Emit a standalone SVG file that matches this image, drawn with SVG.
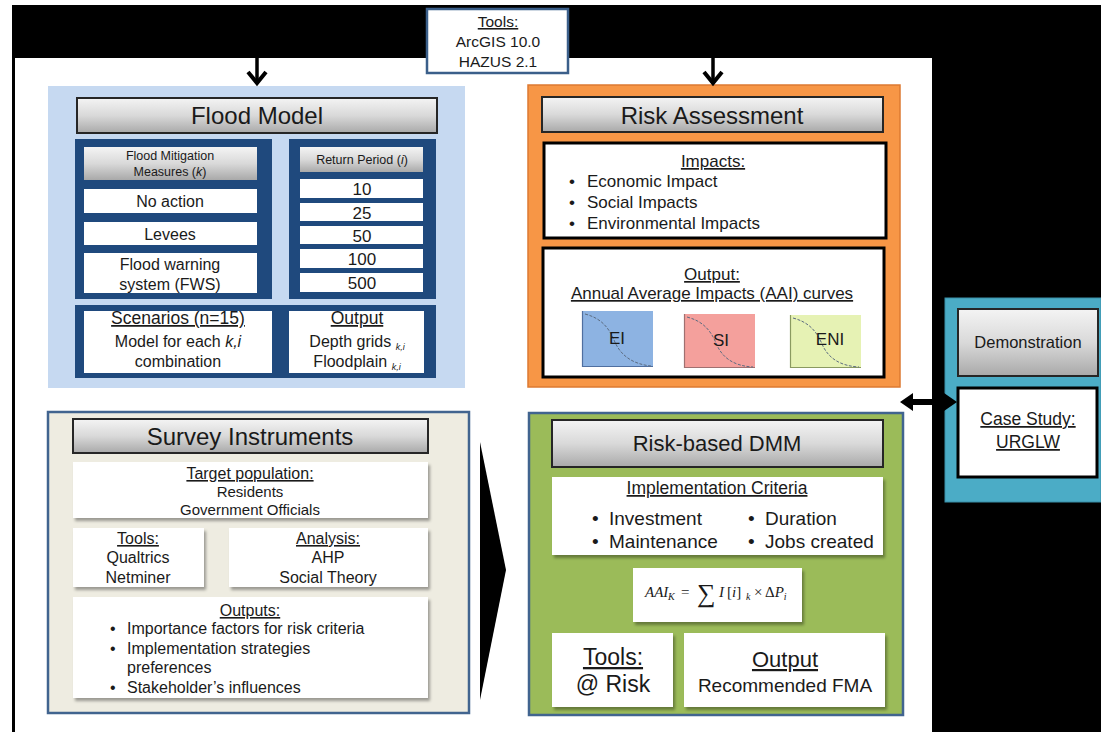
<svg xmlns="http://www.w3.org/2000/svg" width="1101" height="732" viewBox="0 0 1101 732">
<defs>
<linearGradient id="gbar" x1="0" y1="0" x2="0" y2="1">
<stop offset="0" stop-color="#f4f4f4"/>
<stop offset="0.5" stop-color="#d9d9d9"/>
<stop offset="1" stop-color="#a9a9a9"/>
</linearGradient>
<filter id="sh" x="-10%" y="-10%" width="125%" height="130%">
<feDropShadow dx="2" dy="3" stdDeviation="1.5" flood-color="#000" flood-opacity="0.35"/>
</filter>
<style>
text{font-family:"Liberation Sans",Arial,sans-serif;fill:#1a1a1a}
.m{text-anchor:middle}
.u{text-decoration:underline}
.bar{fill:url(#gbar);stroke:#262626;stroke-width:2}
.hdr{fill:url(#gbar);stroke:none}
.wb{fill:#fff}
.dk{fill:#1f497d}
.thk{fill:#fff;stroke:#000;stroke-width:3}
.sw{fill:#fff;filter:url(#sh)}
.curve{fill:none;stroke:#5b6b80;stroke-width:1;stroke-dasharray:3 1.5}
.sub{font-size:9px;font-style:italic}
.ser{font-family:"Liberation Serif","Times New Roman",serif;font-style:italic;font-size:15px}
</style>
</defs>
<rect x="0" y="0" width="1101" height="732" fill="#fff"/>
<rect x="12" y="5" width="1089" height="727" fill="#000"/>
<rect x="15" y="58" width="917" height="674" fill="#fff"/>

<g id="tools-top">
<rect x="427" y="9" width="141" height="64" fill="#fff" stroke="#3b5f8a" stroke-width="2.5"/>
<text x="498" y="27" class="m u" font-size="15.5">Tools:</text>
<text x="498" y="47" class="m" font-size="15.5">ArcGIS 10.0</text>
<text x="498" y="67" class="m" font-size="15.5">HAZUS 2.1</text>
</g>

<g id="flood-model">
<rect x="48" y="86" width="417" height="302" fill="#c6d9f1"/>
<rect x="77" y="98" width="360" height="35" class="bar"/>
<text x="257" y="124" class="m" font-size="24">Flood Model</text>
<rect x="75" y="139" width="197" height="160" class="dk"/>
<rect x="84" y="147" width="173" height="33" class="hdr"/>
<text x="170" y="160" class="m" font-size="12.5">Flood Mitigation</text>
<text x="170" y="176" class="m" font-size="12.5">Measures (<tspan font-style="italic">k</tspan>)</text>
<rect x="84" y="189" width="173" height="24" class="wb"/>
<text x="170" y="207" class="m" font-size="16">No action</text>
<rect x="84" y="222" width="173" height="23" class="wb"/>
<text x="170" y="240" class="m" font-size="16">Levees</text>
<rect x="84" y="253" width="173" height="40" class="wb"/>
<text x="170" y="270" class="m" font-size="16">Flood warning</text>
<text x="170" y="290" class="m" font-size="16">system (FWS)</text>
<rect x="289" y="139" width="147" height="160" class="dk"/>
<rect x="300" y="147" width="123" height="25" class="hdr"/>
<text x="362" y="164" class="m" font-size="12.5">Return Period (<tspan font-style="italic">i</tspan>)</text>
<rect x="300" y="179" width="123" height="19" class="wb"/>
<text x="362" y="195" class="m" font-size="17">10</text>
<rect x="300" y="203" width="123" height="18" class="wb"/>
<text x="362" y="219" class="m" font-size="17">25</text>
<rect x="300" y="226" width="123" height="18" class="wb"/>
<text x="362" y="242" class="m" font-size="17">50</text>
<rect x="300" y="249" width="123" height="19" class="wb"/>
<text x="362" y="265" class="m" font-size="17">100</text>
<rect x="300" y="273" width="123" height="19" class="wb"/>
<text x="362" y="289" class="m" font-size="17">500</text>
<rect x="75" y="305" width="361" height="73" class="dk"/>
<rect x="84" y="311" width="188" height="62" class="wb"/>
<text x="178" y="324" class="m u" font-size="17.5">Scenarios (n=15)</text>
<text x="178" y="347" class="m" font-size="16">Model for each <tspan font-style="italic">k,i</tspan></text>
<text x="178" y="367" class="m" font-size="16">combination</text>
<rect x="289" y="311" width="135" height="62" class="wb"/>
<text x="357" y="324" class="m u" font-size="17.5">Output</text>
<text x="357" y="347" class="m" font-size="16">Depth grids <tspan class="sub" dy="3">k,i</tspan></text>
<text x="357" y="367" class="m" font-size="16">Floodplain <tspan class="sub" dy="3">k,i</tspan></text>
</g>

<g id="risk-assessment">
<rect x="528" y="85" width="372" height="302" fill="#f79646" stroke="#dd7a32" stroke-width="1.5"/>
<rect x="542" y="97" width="341" height="35" class="bar"/>
<text x="712" y="124" class="m" font-size="24">Risk Assessment</text>
<rect x="544" y="143" width="342" height="95" class="thk"/>
<text x="713" y="167" class="m u" font-size="17">Impacts:</text>
<text x="569" y="187" font-size="17">•</text>
<text x="587" y="187" font-size="17">Economic Impact</text>
<text x="569" y="208" font-size="17">•</text>
<text x="587" y="208" font-size="17">Social Impacts</text>
<text x="569" y="229" font-size="17">•</text>
<text x="587" y="229" font-size="17">Environmental Impacts</text>
<rect x="543" y="248" width="341" height="129" class="thk"/>
<text x="712" y="280" class="m u" font-size="17">Output:</text>
<text x="712" y="299" class="m u" font-size="17">Annual Average Impacts (AAI) curves</text>
<rect x="582" y="311" width="71" height="56" fill="#8db3e2"/>
<path d="M582.5 311 V366.5 H653" fill="none" stroke="#4f6fa0" stroke-width="1.2"/>
<path d="M585 314 C600 318 608 326 614 340 C620 355 632 364 651 366" class="curve"/>
<text x="617" y="344" class="m" font-size="17">EI</text>
<rect x="684" y="314" width="71" height="54" fill="#f4a09c"/>
<path d="M684.5 314 V367.5 H755" fill="none" stroke="#a07070" stroke-width="1.2"/>
<path d="M687 317 C702 321 710 329 716 343 C722 358 734 366 753 367" class="curve"/>
<text x="721" y="346" class="m" font-size="17">SI</text>
<rect x="790" y="315" width="71" height="53" fill="#e6f2b4"/>
<path d="M790.5 315 V367.5 H861" fill="none" stroke="#8a9a60" stroke-width="1.2"/>
<path d="M793 318 C808 322 816 330 822 344 C828 358 840 366 859 367" class="curve"/>
<text x="830" y="345" class="m" font-size="17">ENI</text>
</g>

<g id="demonstration">
<rect x="945" y="298" width="156" height="204" fill="#4bacc6" stroke="#3a8fa8" stroke-width="1"/>
<rect x="958" y="309" width="140" height="67" class="bar"/>
<text x="1028" y="348" class="m" font-size="16.5">Demonstration</text>
<rect x="958" y="388" width="139" height="89" class="thk"/>
<text x="1028" y="425" class="m u" font-size="17.5">Case Study:</text>
<text x="1028" y="448" class="m u" font-size="17.5">URGLW</text>
</g>

<g id="survey-instruments">
<rect x="48" y="412" width="421" height="301" fill="#eeece1" stroke="#41648f" stroke-width="2.5"/>
<rect x="73" y="419" width="355" height="34" class="bar"/>
<text x="250" y="445" class="m" font-size="24">Survey Instruments</text>
<rect x="73" y="462" width="355" height="56" class="sw"/>
<text x="250" y="479" class="m u" font-size="16">Target population:</text>
<text x="250" y="497" class="m" font-size="15">Residents</text>
<text x="250" y="515" class="m" font-size="15">Government Officials</text>
<rect x="73" y="528" width="131" height="59" class="sw"/>
<text x="138" y="544" class="m u" font-size="16">Tools:</text>
<text x="138" y="563" class="m" font-size="16">Qualtrics</text>
<text x="138" y="583" class="m" font-size="16">Netminer</text>
<rect x="229" y="528" width="199" height="59" class="sw"/>
<text x="328" y="544" class="m u" font-size="16">Analysis:</text>
<text x="328" y="563" class="m" font-size="16">AHP</text>
<text x="328" y="583" class="m" font-size="16">Social Theory</text>
<rect x="73" y="597" width="355" height="101" class="sw"/>
<text x="250" y="616" class="m u" font-size="16">Outputs:</text>
<text x="110" y="634" font-size="16">•</text>
<text x="127" y="634" font-size="16">Importance factors for risk criteria</text>
<text x="110" y="654" font-size="16">•</text>
<text x="127" y="654" font-size="16">Implementation strategies</text>
<text x="127" y="673" font-size="16">preferences</text>
<text x="110" y="693" font-size="16">•</text>
<text x="127" y="693" font-size="16">Stakeholder’s influences</text>
</g>

<g id="risk-based-dmm">
<rect x="529" y="413" width="374" height="302" fill="#9bbb59" stroke="#41648f" stroke-width="2.5"/>
<rect x="552" y="420" width="331" height="47" class="bar"/>
<text x="717" y="451" class="m" font-size="22">Risk-based DMM</text>
<rect x="552" y="477" width="331" height="78" class="sw"/>
<text x="717" y="494" class="m u" font-size="17.5">Implementation  Criteria</text>
<text x="592" y="525" font-size="19">•</text>
<text x="609" y="525" font-size="19">Investment</text>
<text x="592" y="548" font-size="19">•</text>
<text x="609" y="548" font-size="19">Maintenance</text>
<text x="748" y="525" font-size="19">•</text>
<text x="765" y="525" font-size="19">Duration</text>
<text x="748" y="548" font-size="19">•</text>
<text x="765" y="548" font-size="19">Jobs created</text>
<rect x="633" y="568" width="169" height="54" class="sw"/>
<text class="ser" y="597"><tspan x="645">AAI</tspan><tspan x="668" dy="3" font-size="10">K</tspan><tspan x="681" dy="-3" font-style="normal">=</tspan><tspan x="697" dy="5" font-size="26" font-style="normal">∑</tspan><tspan x="719" dy="-5">I</tspan><tspan x="727" font-style="normal">[</tspan><tspan>i</tspan><tspan font-style="normal">]</tspan><tspan x="746" dy="3" font-size="10">k</tspan><tspan x="754" dy="-3" font-style="normal">×</tspan><tspan x="765" font-style="normal">Δ</tspan><tspan>P</tspan><tspan dy="3" font-size="10">i</tspan></text>
<rect x="552" y="633" width="121" height="74" class="sw"/>
<text x="613" y="665" class="m u" font-size="23">Tools:</text>
<text x="613" y="692" class="m" font-size="23">@ Risk</text>
<rect x="684" y="633" width="201" height="74" class="sw"/>
<text x="785" y="667" class="m u" font-size="22">Output</text>
<text x="785" y="692" class="m" font-size="19">Recommended FMA</text>
</g>

<g id="connectors">
<line x1="257" y1="58" x2="257" y2="81" stroke="#000" stroke-width="3.5"/>
<polyline points="248,72 257,83 266,72" fill="none" stroke="#000" stroke-width="4"/>
<line x1="713" y1="58" x2="713" y2="81" stroke="#000" stroke-width="3.5"/>
<polyline points="704,72 713,83 722,72" fill="none" stroke="#000" stroke-width="4"/>
<polygon points="480,442 506,570 480,700" fill="#000"/>
<polygon points="900,402 913,393 913,399 944,399 944,393 957,402 944,411 944,405 913,405 913,411" fill="#000"/>
</g>
</svg>
